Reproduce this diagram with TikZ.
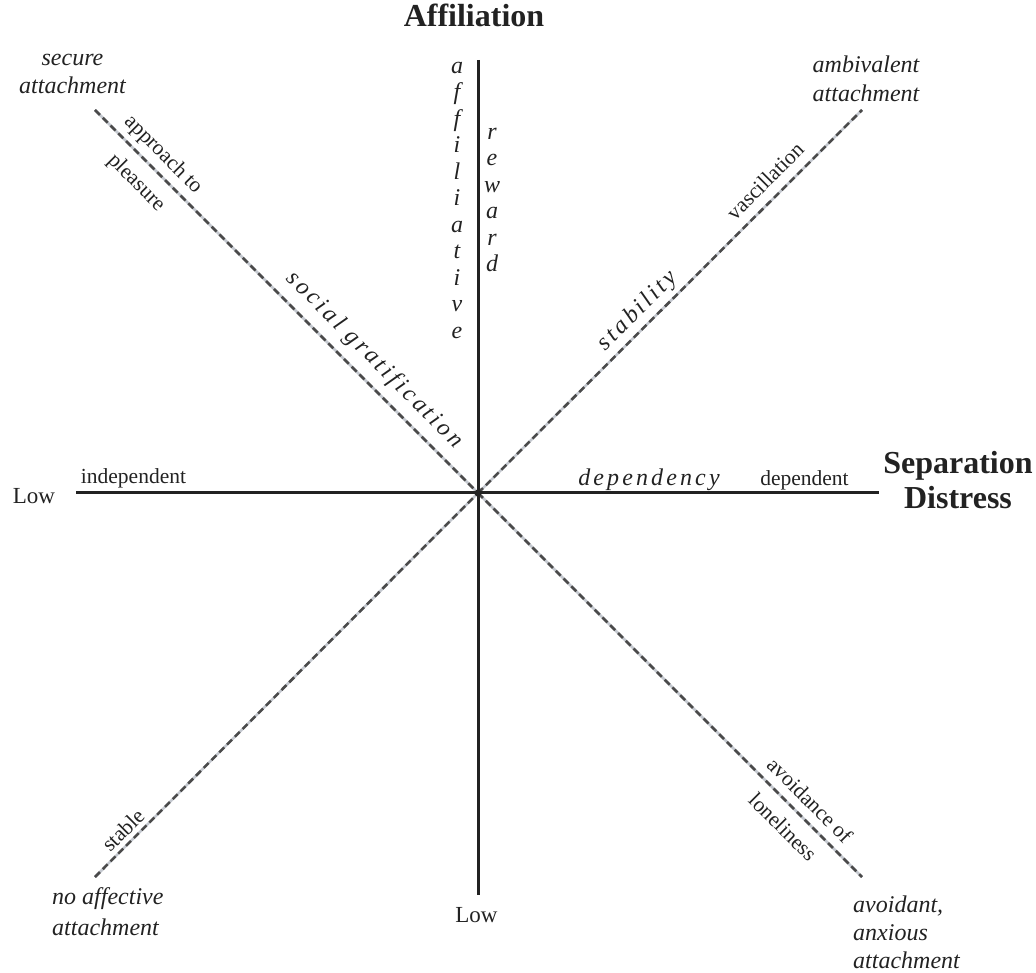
\documentclass[tikz,border=0pt]{standalone}
\usepackage{fontspec}
\setmainfont{Liberation Serif}
\newfontfamily\spit[LetterSpace=13]{Liberation Serif}
\definecolor{ink}{HTML}{222222}
\definecolor{dashc}{HTML}{4A4A4A}
\definecolor{gapc}{HTML}{C4C8CF}
\newcommand\itlab{\fontsize{24}{28}\selectfont\itshape}
\newcommand\uplab{\fontsize{21.5}{25}\selectfont}
\newcommand\lowlab{\fontsize{23}{27}\selectfont}
\newcommand\hdlab{\fontsize{32}{36}\selectfont\bfseries}
\newcommand\splab{\fontsize{24}{28}\selectfont\spit\itshape}
\begin{document}
\begin{tikzpicture}[x=1pt,y=-1pt,
  axis/.style={line width=3pt, draw=ink},
  diag/.style={line width=2.5pt, draw=dashc, dash pattern=on 7pt off 4pt,
    preaction={draw=gapc, solid, line width=2.5pt}},
  lab/.style={inner sep=0pt, text=ink, anchor=base},
  rlab/.style={inner sep=0pt, text=ink, anchor=center}]
\useasboundingbox (0,0) rectangle (1036,973);
% axis ends
\coordinate (O) at (478,493);
\coordinate (T) at (478,60);
\coordinate (B) at (478,895);
\coordinate (L) at (76,492);
\coordinate (R) at (879,492);
\coordinate (NW) at (95,110);
\coordinate (NE) at (862,110);
\coordinate (SW) at (95,877);
\coordinate (SE) at (862,877);
% diagonals
\draw[diag] (NW) -- (O);
\draw[diag] (O) -- (SE);
\draw[diag] (SW) -- (O);
\draw[diag] (O) -- (NE);
% axes
\draw[axis] (T) -- (B);
\draw[axis] (L) -- (R);
\fill[ink] (O) circle (3.5pt);
% headers
\node[lab] (aff) at (474,27) {\hdlab Affiliation};
\node[lab] (sep1) at (958,473) {\hdlab Separation};
\node[lab] (sep2) at (958,508) {\hdlab Distress};
\node[lab] (lowL) at (34,503) {\lowlab Low};
\node[lab] (lowB) at (476.5,922) {\lowlab Low};
% corner labels
\node[lab] (sa1) at (72.5,66) {\itlab secure};
\node[lab] (sa2) at (72.5,94) {\itlab attachment};
\node[lab] (aa1) at (866,73) {\itlab ambivalent};
\node[lab] (aa2) at (866,102) {\itlab attachment};
\node[lab, anchor=base west] (na1) at (52,904) {\itlab no affective};
\node[lab, anchor=base west] (na2) at (52,935) {\itlab attachment};
\node[lab, anchor=base west] (av1) at (853,912) {\itlab avoidant,};
\node[lab, anchor=base west] (av2) at (853,940) {\itlab anxious};
\node[lab, anchor=base west] (av3) at (853,968) {\itlab attachment};
% horizontal labels
\node[lab] (indep) at (133.5,483) {\uplab independent};
\node[lab] (dep) at (804.5,485) {\uplab dependent};
\node[lab] (depcy) at (649,485) {\splab dependency};
% vertical letters
\foreach \l [count=\i] in {a,f,f,i,l,i,a,t,i,v,e}
  \node[lab] (af\i) at (457,{47+26.5*\i}) {\itlab \l};
\foreach \l [count=\i] in {r,e,w,a,r,d}
  \node[lab] (rw\i) at (492,{113+26.5*\i}) {\itlab \l};
% diagonal labels
\node[rlab, rotate=-45] (ap) at (163,155) {\uplab approach to};
\node[rlab, rotate=-45] (pl) at (136,183) {\uplab pleasure};
\node[rlab, rotate=-45] (sg) at (374.5,360) {\splab social gratification};
\node[rlab, rotate=45] (va) at (765,181) {\uplab vascillation};
\node[rlab, rotate=45] (st) at (638,311) {\splab stability};
\node[rlab, rotate=45] (sb) at (123,830) {\uplab stable};
\node[rlab, rotate=-45] (ao) at (810,800) {\uplab avoidance of};
\node[rlab, rotate=-45] (lo) at (783,827) {\uplab loneliness};
\end{tikzpicture}
\end{document}
